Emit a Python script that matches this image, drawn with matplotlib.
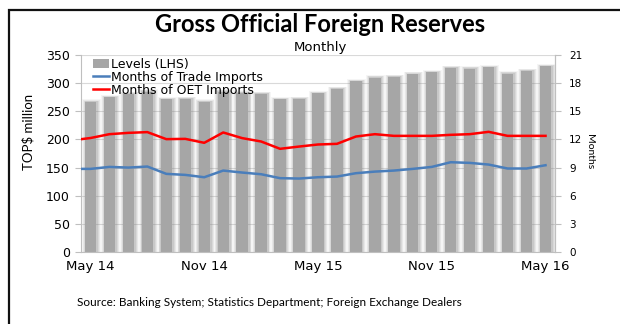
import matplotlib
matplotlib.use("Agg")
import matplotlib.pyplot as plt
from matplotlib.patches import Patch, Rectangle
from matplotlib.lines import Line2D
import numpy as np

# Meses (May 14 - May 16), con un punto previo (Apr 14) para las líneas
months = ["May 14", "Jun 14", "Jul 14", "Aug 14", "Sep 14", "Oct 14", "Nov 14",
          "Dec 14", "Jan 15", "Feb 15", "Mar 15", "Apr 15", "May 15", "Jun 15",
          "Jul 15", "Aug 15", "Sep 15", "Oct 15", "Nov 15", "Dec 15", "Jan 16",
          "Feb 16", "Mar 16", "Apr 16", "May 16"]
tick_labels = ["May 14", "Nov 14", "May 15", "Nov 15", "May 16"]

# Reservas (TOP$ millones)
levels = [267, 275, 281, 285, 271, 272, 267, 285, 283, 281, 271, 272, 282,
          290, 303, 310, 311, 316, 319, 327, 326, 328, 317, 322, 330]

# Meses de importaciones (eje derecho); el primer valor es Apr 14
trade_months = [8.86, 8.86, 9.07, 9.00, 9.11, 8.33, 8.22, 7.97, 8.68, 8.47, 8.29,
                7.87, 7.83, 7.97, 8.04, 8.40, 8.57, 8.68, 8.86, 9.07, 9.57,
                9.50, 9.32, 8.90, 8.90, 9.25]
oet_months = [11.9, 12.15, 12.56, 12.70, 12.78, 12.03, 12.06, 11.64, 12.74, 12.14,
              11.78, 11.00, 11.24, 11.46, 11.53, 12.31, 12.56, 12.38, 12.38,
              12.38, 12.49, 12.56, 12.81, 12.38, 12.38, 12.38]

x = np.arange(len(months))
x_lines = np.arange(-1, len(months))

fig = plt.figure(figsize=(6.2, 3.24), dpi=100)

# marco negro del gráfico
fig.patches.append(Rectangle((9 / 620, -0.1), 1.2, 1 - 10 / 324 + 0.1,
                             transform=fig.transFigure, fill=False,
                             edgecolor="#111111", linewidth=1.6))

ax = fig.add_axes([81 / 620, 1 - 252 / 324, 474 / 620, 197 / 324])
ax2 = ax.twinx()

# sombra difusa alrededor de las barras
lv = np.array(levels)
for w, dh, a in [(1.0, 4, 0.08), (0.9, 3, 0.12), (0.8, 2, 0.16), (0.7, 1, 0.20)]:
    ax.bar(x + 0.04, lv + dh, width=w, color="#8A8A8A", alpha=a, linewidth=0, zorder=1)
ax.bar(x, levels, width=0.6, color="#A6A6A6", linewidth=0, zorder=2)

ax.set_xlim(-0.5, len(months) - 0.5)
ax.set_ylim(0, 350)
ax.set_yticks(range(0, 351, 50))
ax.grid(axis="y", color="#D9D9D9", linewidth=0.8, zorder=0)
ax.set_axisbelow(True)
ax.set_xticks([months.index(t) for t in tick_labels])
ax.set_xticklabels(tick_labels, fontsize=9.5)
ax.tick_params(axis="x", length=0, pad=6)
ax.tick_params(axis="y", labelsize=9, length=4, color="#BFBFBF", pad=4)
ax.spines["top"].set_visible(False)
for s in ["left", "bottom", "right"]:
    ax.spines[s].set_color("#BFBFBF")

ax2.plot(x_lines, trade_months, color="#4A7EBB", linewidth=1.8, zorder=3)
ax2.plot(x_lines, oet_months, color="#FF0000", linewidth=1.8, zorder=3)
ax2.set_ylim(0, 21)
ax2.set_yticks(range(0, 22, 3))
ax2.tick_params(axis="y", labelsize=7.5, length=4, color="#BFBFBF", pad=6)
ax2.spines["top"].set_visible(False)
ax2.spines["right"].set_color("#BFBFBF")
ax2.spines["left"].set_visible(False)
ax2.spines["bottom"].set_visible(False)
ax2.set_xlim(-0.5, len(months) - 0.5)

fig.text(320 / 620, 1 - 25 / 324, "Gross Official Foreign Reserves", ha="center",
         va="center", fontsize=17, fontweight="bold", family="Lato")
fig.text(320 / 620, 1 - 47 / 324, "Monthly", ha="center", va="center", fontsize=9.5)
fig.text(28 / 620, 1 - 132 / 324, "TOP$ million", rotation=90, ha="center",
         va="center", fontsize=9.5, family="Lato")
fig.text(589 / 620, 1 - 152 / 324, "Months", rotation=-90, ha="center",
         va="center", fontsize=7.5, family="Lato")
fig.text(77 / 620, 1 - 303 / 324,
         "Source: Banking System; Statistics Department; Foreign Exchange Dealers",
         ha="left", va="center", fontsize=8.5, family="Lato")

handles = [Patch(facecolor="#A6A6A6", edgecolor="none"),
           Line2D([], [], color="#4A7EBB", linewidth=1.8),
           Line2D([], [], color="#FF0000", linewidth=1.8)]
ax2.legend(handles, ["Levels (LHS)", "Months of Trade Imports", "Months of OET Imports"],
           loc="upper left", bbox_to_anchor=(0.01, 1.025), frameon=False,
           fontsize=9, handlelength=1.3, handletextpad=0.1,
           labelspacing=0.0, borderaxespad=0.2)

fig.savefig("out.png", dpi=100)
